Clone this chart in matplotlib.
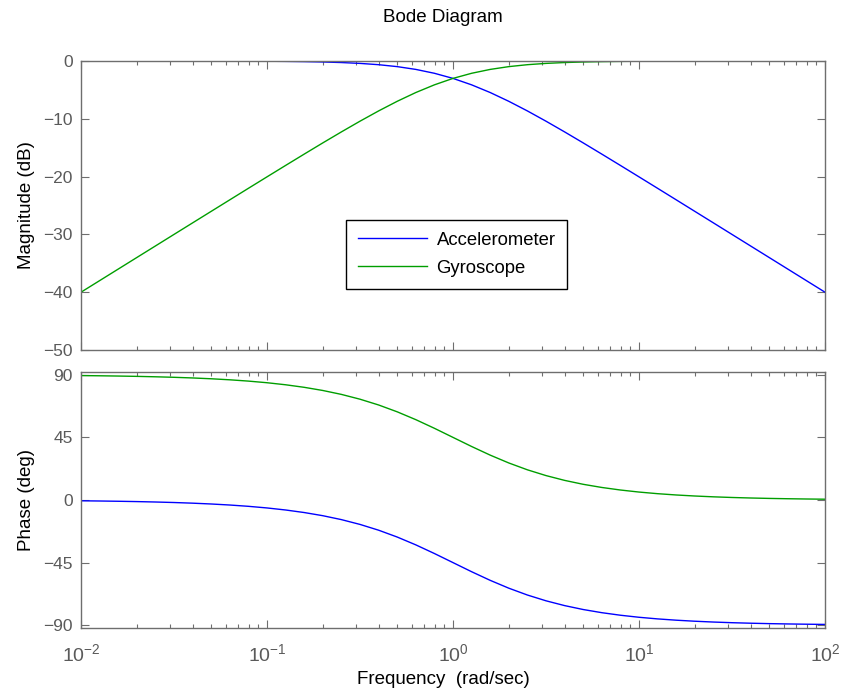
import matplotlib
matplotlib.use('Agg')
import matplotlib.pyplot as plt
from matplotlib.ticker import LogLocator, FixedLocator, NullFormatter

plt.rcParams['font.family'] = ['Liberation Sans', 'DejaVu Sans']
plt.rcParams['mathtext.fontset'] = 'custom'
plt.rcParams['mathtext.rm'] = 'Liberation Sans'
plt.rcParams['mathtext.it'] = 'Liberation Sans'

# frequencies (rad/sec), one tenth of a decade apart
freq = [0.01, 0.01259, 0.01585, 0.01995, 0.02512, 0.03162, 0.03981, 0.05012,
        0.0631, 0.07943, 0.1, 0.1259, 0.1585, 0.1995, 0.2512, 0.3162,
        0.3981, 0.5012, 0.631, 0.7943, 1.0, 1.259, 1.585, 1.995, 2.512,
        3.162, 3.981, 5.012, 6.31, 7.943, 10.0, 12.59, 15.85, 19.95, 25.12,
        31.62, 39.81, 50.12, 63.1, 79.43, 100.0]

acc_mag = [0.0, -0.001, -0.001, -0.002, -0.003, -0.004, -0.007, -0.011,
           -0.017, -0.027, -0.043, -0.068, -0.108, -0.170, -0.266, -0.414,
           -0.639, -0.973, -1.455, -2.125, -3.010, -4.125, -5.455, -6.973,
           -8.639, -10.414, -12.266, -14.170, -16.108, -18.068, -20.043,
           -22.027, -24.017, -26.011, -28.007, -30.004, -32.003, -34.002,
           -36.001, -38.001, -40.0]
gyro_mag = [-40.0, -38.001, -36.001, -34.002, -32.003, -30.004, -28.007,
            -26.011, -24.017, -22.027, -20.043, -18.068, -16.108, -14.170,
            -12.266, -10.414, -8.639, -6.973, -5.455, -4.125, -3.010,
            -2.125, -1.455, -0.973, -0.639, -0.414, -0.266, -0.170, -0.108,
            -0.068, -0.043, -0.027, -0.017, -0.011, -0.007, -0.004, -0.003,
            -0.002, -0.001, -0.001, 0.0]

acc_phase = [-0.57, -0.72, -0.91, -1.14, -1.44, -1.81, -2.28, -2.87, -3.61,
             -4.54, -5.71, -7.18, -9.01, -11.28, -14.10, -17.55, -21.70,
             -26.62, -32.25, -38.46, -45.0, -51.54, -57.75, -63.38, -68.30,
             -72.45, -75.90, -78.72, -80.99, -82.82, -84.29, -85.46, -86.39,
             -87.13, -87.72, -88.19, -88.56, -88.86, -89.09, -89.28, -89.43]
gyro_phase = [89.43, 89.28, 89.09, 88.86, 88.56, 88.19, 87.72, 87.13, 86.39,
              85.46, 84.29, 82.82, 80.99, 78.72, 75.90, 72.45, 68.30, 63.38,
              57.75, 51.54, 45.0, 38.46, 32.25, 26.62, 21.70, 17.55, 14.10,
              11.28, 9.01, 7.18, 5.71, 4.54, 3.61, 2.87, 2.28, 1.81, 1.44,
              1.14, 0.91, 0.72, 0.57]

names = ['Accelerometer', 'Gyroscope']
blue = (0, 0, 1)
green = (0, 0.62, 0)
axcol = '#6e6e6e'
tickcol = '#5a5a5a'
W, H = 843, 696

fig = plt.figure(figsize=(W / 100, H / 100), dpi=100)
ax1 = fig.add_axes([81 / W, 1 - 350 / H, 744 / W, 289 / H])
ax2 = fig.add_axes([81 / W, 1 - 628 / H, 744 / W, 256 / H])

ax1.semilogx(freq, acc_mag, color=blue, lw=1, label=names[0])
ax1.semilogx(freq, gyro_mag, color=green, lw=1, label=names[1])
ax2.semilogx(freq, acc_phase, color=blue, lw=1)
ax2.semilogx(freq, gyro_phase, color=green, lw=1)

ax1.set_ylim(-50, 0)
ax1.yaxis.set_major_locator(FixedLocator([-50, -40, -30, -20, -10, 0]))
ax2.set_ylim(-92, 92)
ax2.yaxis.set_major_locator(FixedLocator([-90, -45, 0, 45, 90]))

for ax in (ax1, ax2):
    ax.set_xlim(0.01, 100)
    ax.xaxis.set_major_locator(LogLocator(base=10, numticks=10))
    ax.xaxis.set_minor_locator(LogLocator(base=10, subs=range(2, 10), numticks=20))
    ax.xaxis.set_minor_formatter(NullFormatter())
    ax.tick_params(which='both', direction='in', top=True, right=True,
                   colors=axcol, labelcolor=tickcol, labelsize=12.5, width=0.8)
    ax.tick_params(which='major', length=6, pad=6)
    ax.tick_params(which='minor', length=3)
    for s in ax.spines.values():
        s.set_color(axcol)
        s.set_linewidth(1.0)

ax1.tick_params(axis='x', which='both', labelbottom=False)
ax2.tick_params(axis='x', which='major', labelsize=14, pad=11)
ax2.set_yticklabels(['\u221290', '\u221245', '0', '45', '90'])
ax1.set_yticklabels(['\u221250', '\u221240', '\u221230', '\u221220', '\u221210', '0'])

ax1.set_ylabel('Magnitude (dB)', fontsize=13.5, labelpad=6)
ax2.set_ylabel('Phase (deg)', fontsize=13.5, labelpad=6)
ax2.set_xlabel('Frequency  (rad/sec)', fontsize=13.5)
ax2.xaxis.set_label_coords((443 - 81) / 744, -(671 - 628) / 256)
fig.text(443 / W, 1 - 18 / H, 'Bode Diagram', ha='center', va='center', fontsize=13.5)

leg = ax1.legend(loc='center', bbox_to_anchor=(0.505, 0.332), fontsize=13.3,
                 fancybox=False, framealpha=1, edgecolor='black',
                 handlelength=3.75, borderpad=0.65, labelspacing=0.6,
                 handletextpad=0.5)
leg.get_frame().set_linewidth(1.0)

fig.savefig('out.png', dpi=100)
